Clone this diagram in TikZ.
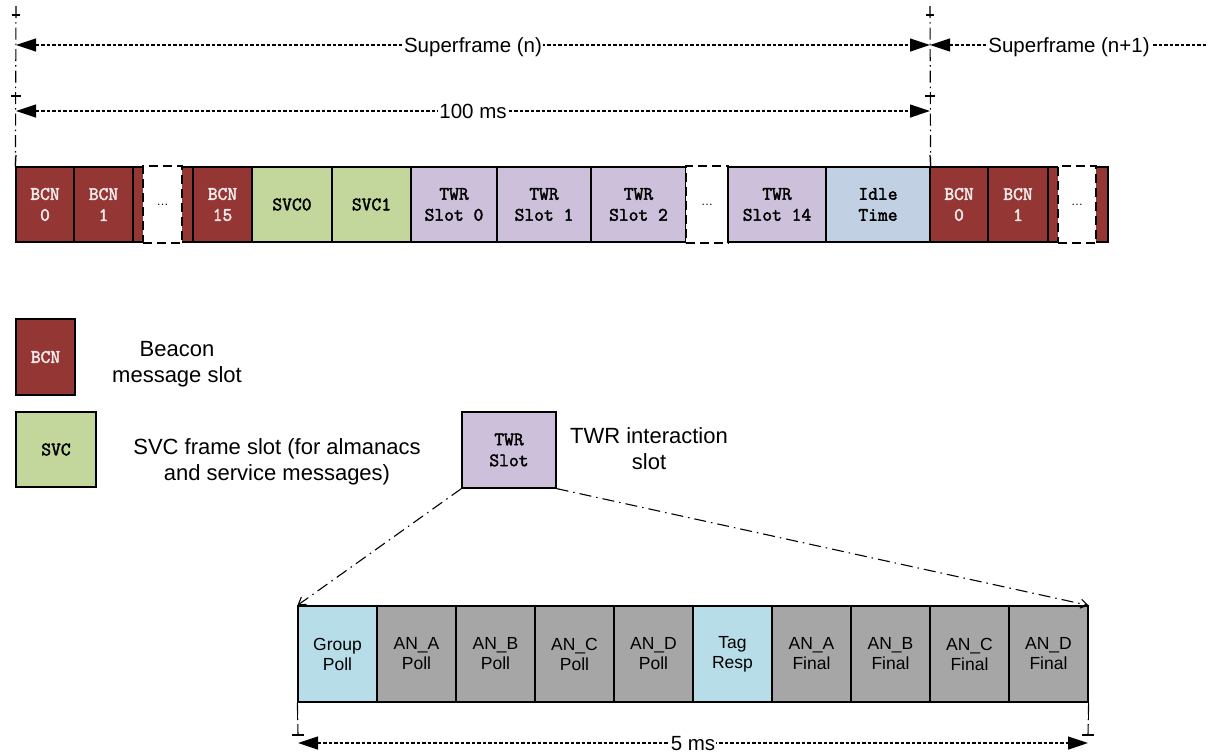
\documentclass[tikz,border=0pt]{standalone}
\usepackage{fontspec}
\setmainfont{Liberation Sans}
\newfontfamily\slotfont{Latin Modern Mono}[FakeBold=2.2]
\usetikzlibrary{arrows.meta}

\definecolor{bcnred}{RGB}{148,55,52}
\definecolor{bcntext}{RGB}{242,234,234}
\definecolor{svcgreen}{RGB}{195,214,155}
\definecolor{twrpurple}{RGB}{204,192,218}
\definecolor{idleblue}{RGB}{194,208,228}
\definecolor{pollblue}{RGB}{183,221,232}
\definecolor{ancgray}{RGB}{166,166,166}

\tikzset{
  slot/.style={draw=black, line width=1.2pt, inner sep=0pt, minimum height=75pt,
    align=center, font=\fontsize{19}{21}\selectfont\slotfont},
  bcn/.style={slot, fill=bcnred, text=bcntext},
  svc/.style={slot, fill=svcgreen},
  twr/.style={slot, fill=twrpurple},
  idle/.style={slot, fill=idleblue},
  filler/.style={slot, fill=bcnred},
  gap/.style={draw=black, line width=1.2pt, dash pattern=on 9pt off 5pt, fill=white,
    inner sep=0pt, minimum height=77pt, font=\fontsize{12}{14}\selectfont},
  cell/.style={draw=black, line width=1.2pt, inner sep=0pt, minimum width=79pt,
    minimum height=96pt, align=center, font=\fontsize{17.5}{20}\selectfont},
  label/.style={align=center, font=\fontsize{22}{26}\selectfont},
  dimline/.style={line width=1.2pt, dash pattern=on 3.5pt off 2pt},
  dimtip/.tip={Triangle[length=20pt, width=13pt]},
  dimtext/.style={fill=white, inner sep=1pt, text height=14pt, text depth=0pt,
    font=\fontsize{20.5}{24}\selectfont},
  extline/.style={line width=1.1pt, dash pattern=on 12pt off 4pt on 1.5pt off 4pt},
  zoomline/.style={line width=1.1pt, dash pattern=on 12pt off 5pt on 1.5pt off 5pt},
  tick/.style={line width=1.2pt},
}

\begin{document}
\begin{tikzpicture}[x=1pt, y=-1pt]
\useasboundingbox (0,0) rectangle (1211,753);

% ---- superframe (n) ----
\node[bcn, minimum width=58pt] (b0) at (45,204.5) {BCN\\0};
\node[bcn, minimum width=59pt] (b1) at (103.5,204.5) {BCN\\1};
\node[filler, minimum width=60pt] (f1) at (163,204.5) {};
\node[gap, minimum width=39pt] (g1) at (162.5,204.5) {\dots};
\node[bcn, minimum width=59pt] (b15) at (222.5,204.5) {BCN\\15};
\node[svc, minimum width=80pt] (s0) at (292,204.5) {SVC0};
\node[svc, minimum width=79pt] (s1) at (371.5,204.5) {SVC1};
\node[twr, minimum width=86pt] (t0) at (454,204.5) {TWR\\Slot 0};
\node[twr, minimum width=94pt] (t1) at (544,204.5) {TWR\\Slot 1};
\node[twr, minimum width=95pt] (t2) at (638.5,204.5) {TWR\\Slot 2};
\node[gap, minimum width=42pt] (g2) at (707,204.5) {\dots};
\node[twr, minimum width=98pt] (t14) at (777,204.5) {TWR\\Slot 14};
\node[idle, minimum width=104pt] (it) at (878,204.5) {Idle\\Time};

% ---- superframe (n+1) ----
\node[bcn, minimum width=58pt] (c0) at (959,204.5) {BCN\\0};
\node[bcn, minimum width=60pt] (c1) at (1018,204.5) {BCN\\1};
\node[filler, minimum width=60pt] (f2) at (1078,204.5) {};
\node[gap, minimum width=38pt] (g3) at (1077,204.5) {\dots};

% ---- extension lines and dimensions ----
\coordinate (xa) at (16,6);
\coordinate (xb) at (930,6);
\coordinate (ra) at (16,45);
\coordinate (rb) at (930,45);
\coordinate (rc) at (1208,45);
\coordinate (ma) at (16,111);
\coordinate (mb) at (930,111);

\draw[extline] (xa) -- (b0.north west);
\draw[extline] (xb) -- (it.north east);
\draw[tick] (16,155) -- (b0.north west);
\draw[tick] (930,155) -- (it.north east);
\foreach \x in {16,930} {
  \draw[tick] (\x-4,15) -- (\x+4,15);
  \draw[tick] (\x-5,96) -- (\x+5,96);
}

\draw[dimline, dimtip-dimtip] (ra) -- node[dimtext] (sfn) {Superframe (n)} (rb);
\draw[dimline, dimtip-] (rb) -- node[dimtext, pos=0.5] (sfn1) {Superframe (n+1)} (rc);
\draw[dimline, dimtip-dimtip] (ma) -- node[dimtext] (ms) {100 ms} (mb);

% ---- legend ----
\node[bcn, minimum width=59pt, minimum height=76pt] (lb) at (45.5,357) {BCN};
\node[label] (lbt) at (177,364) {Beacon\\message slot};
\node[svc, minimum width=80pt, minimum height=75pt] (ls) at (56,449.5) {SVC};
\node[label] (lst) at (277,462) {SVC frame slot (for almanacs\\and service messages)};
\node[twr, minimum width=94pt, minimum height=76pt] (lt) at (509,450) {TWR\\Slot};
\node[label] (ltt) at (649,449) {TWR interaction\\slot};

% ---- TWR slot detail ----
\node[cell, fill=pollblue] (p1) at (337.5,654) {Group\\Poll};
\node[cell, fill=ancgray] (p2) at (416.5,654) {AN\_A\\Poll};
\node[cell, fill=ancgray] (p3) at (495.5,654) {AN\_B\\Poll};
\node[cell, fill=ancgray] (p4) at (574.5,654) {AN\_C\\Poll};
\node[cell, fill=ancgray] (p5) at (653.5,654) {AN\_D\\Poll};
\node[cell, fill=pollblue] (p6) at (732.5,654) {Tag\\Resp};
\node[cell, fill=ancgray] (p7) at (811.5,654) {AN\_A\\Final};
\node[cell, fill=ancgray] (p8) at (890.5,654) {AN\_B\\Final};
\node[cell, fill=ancgray] (p9) at (969.5,654) {AN\_C\\Final};
\node[cell, fill=ancgray] (p10) at (1048.5,654) {AN\_D\\Final};

\draw[zoomline, -{Straight Barb[length=7pt, width=9pt]}] (lt.south west) -- (p1.north west);
\draw[zoomline, -{Straight Barb[length=7pt, width=9pt]}] (lt.south east) -- (p10.north east);

% ---- 5 ms dimension ----
\coordinate (ya) at (298,735);
\coordinate (yb) at (1088,735);
\coordinate (da) at (298,743);
\coordinate (db) at (1088,743);
\draw[extline] (p1.south west) -- (ya);
\draw[extline] (p10.south east) -- (yb);
\draw[tick] (p1.south west) -- ++(0,16);
\draw[tick] (p10.south east) -- ++(0,16);
\draw[tick] (292,735) -- (304,735);
\draw[tick] (1082,735) -- (1094,735);
\draw[dimline, dimtip-dimtip] (da) -- node[dimtext] (fms) {5 ms} (db);

\end{tikzpicture}
\end{document}
